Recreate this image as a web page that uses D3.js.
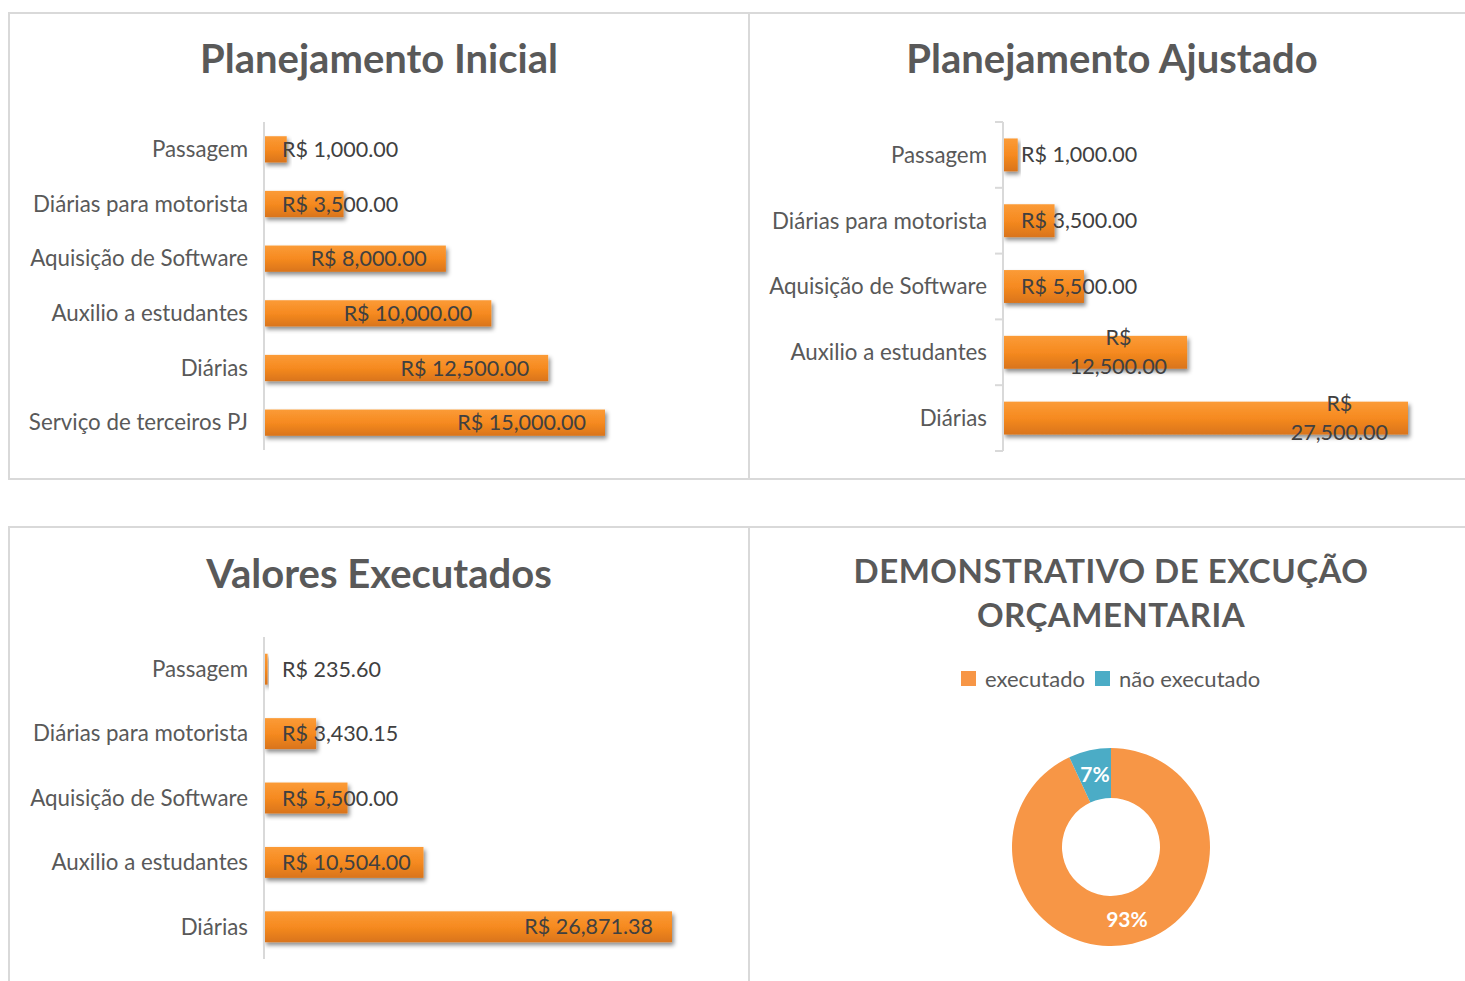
<!DOCTYPE html>
<meta charset="utf-8">
<title>Demonstrativo de execução orçamentaria</title>
<script src="https://d3js.org/d3.v7.min.js"></script>
<style>
  body { margin: 0; background: #fff; overflow: hidden; }
  text { font-family: Lato, "Open Sans", sans-serif; }
</style>
<div id="my_dataviz"></div>
<script>

// data
var catsInicial = ["Passagem", "Diárias para motorista", "Aquisição de Software", "Auxilio a estudantes", "Diárias", "Serviço de terceiros PJ"];
var valsInicial = [1000, 3500, 8000, 10000, 12500, 15000];

var catsAjustado = ["Passagem", "Diárias para motorista", "Aquisição de Software", "Auxilio a estudantes", "Diárias"];
var valsAjustado = [1000, 3500, 5500, 12500, 27500];

var catsExecutado = ["Passagem", "Diárias para motorista", "Aquisição de Software", "Auxilio a estudantes", "Diárias"];
var valsExecutado = [235.60, 3430.15, 5500, 10504, 26871.38];

var donutLabels = ["executado", "não executado"];
var donutColors = ["#f79646", "#4bacc6"];

var W = 1465, H = 981;

var svg = d3.select("#my_dataviz")
  .append("svg")
    .attr("width", W)
    .attr("height", H);

// gradient + shadow for the bars
var defs = svg.append("defs");
var grad = defs.append("linearGradient")
  .attr("id", "barGrad")
  .attr("x1", 0).attr("y1", 0).attr("x2", 0).attr("y2", 1);
grad.append("stop").attr("offset", "0%").attr("stop-color", "#fb9b37");
grad.append("stop").attr("offset", "50%").attr("stop-color", "#f68a20");
grad.append("stop").attr("offset", "100%").attr("stop-color", "#d9741a");

var shadow = defs.append("filter")
  .attr("id", "shadow")
  .attr("x", "-10%").attr("y", "-30%").attr("width", "130%").attr("height", "180%");
shadow.append("feDropShadow")
  .attr("dx", 2).attr("dy", 3)
  .attr("stdDeviation", 2)
  .attr("flood-color", "#000")
  .attr("flood-opacity", 0.45);

// panel frames
var panels = [
  [9, 13, 740, 466],
  [749, 13, 740, 466],
  [9, 527, 740, 470],
  [749, 527, 740, 470]
];
svg.selectAll(".panel")
  .data(panels)
  .enter()
  .append("rect")
    .attr("class", "panel")
    .attr("x", function(d) { return d[0]; })
    .attr("y", function(d) { return d[1]; })
    .attr("width", function(d) { return d[2]; })
    .attr("height", function(d) { return d[3]; })
    .attr("fill", "none")
    .attr("stroke", "#d9d9d9")
    .attr("stroke-width", 2);

function fmt(v) {
  return "R$ " + d3.format(",.2f")(v);
}

// horizontal bar chart
function drawBars(o) {
  var g = svg.append("g");

  g.append("text")
    .attr("x", o.titleX)
    .attr("y", o.titleY)
    .attr("text-anchor", "middle")
    .attr("font-size", "40px")
    .attr("font-weight", "bold")
    .attr("fill", "#595959")
    .text(o.title);

  var x = d3.scaleLinear()
    .domain([0, d3.max(o.vals)])
    .range([o.axisX, o.xEnd]);

  var y = d3.scaleBand()
    .domain(o.cats)
    .range([o.y0, o.y1])
    .paddingInner(o.pad)
    .paddingOuter(o.pad / 2);

  var data = o.cats.map(function(c, i) { return {cat: c, val: o.vals[i]}; });

  g.selectAll(".bar")
    .data(data)
    .enter()
    .append("rect")
      .attr("class", "bar")
      .attr("x", x(0))
      .attr("y", function(d) { return y(d.cat); })
      .attr("width", function(d) { return x(d.val) - x(0); })
      .attr("height", y.bandwidth())
      .attr("fill", "url(#barGrad)")
      .attr("filter", "url(#shadow)");

  // axis line
  g.append("line")
    .attr("x1", o.axisX).attr("x2", o.axisX)
    .attr("y1", o.y0).attr("y2", o.y1)
    .attr("stroke", "#d9d9d9")
    .attr("stroke-width", 2);

  if (o.ticks) {
    var step = y.step();
    var tk = d3.range(o.cats.length + 1).map(function(i) { return o.y0 + i * step; });
    g.selectAll(".tick")
      .data(tk)
      .enter()
      .append("line")
        .attr("x1", o.axisX - 8).attr("x2", o.axisX)
        .attr("y1", function(d) { return d; })
        .attr("y2", function(d) { return d; })
        .attr("stroke", "#d9d9d9")
        .attr("stroke-width", 2);
  }

  // category labels
  g.selectAll(".cat")
    .data(data)
    .enter()
    .append("text")
      .attr("x", o.axisX - 16)
      .attr("y", function(d) { return y(d.cat) + y.bandwidth() / 2; })
      .attr("dy", "0.35em")
      .attr("text-anchor", "end")
      .attr("font-size", "22.3px")
      .attr("fill", "#595959")
      .text(function(d) { return d.cat; });

  // value labels, inside end, never left of the axis
  data.forEach(function(d) {
    var cy = y(d.cat) + y.bandwidth() / 2;
    var t = g.append("text")
      .attr("font-size", "21.5px")
      .attr("fill", "#404040");
    if (o.wrapAt && d.val >= o.wrapAt) {
      var num = d3.format(",.2f")(d.val);
      t.append("tspan").attr("class", "l1").text("R$");
      t.append("tspan").attr("class", "l2").text(num);
      var w2 = t.select(".l2").node().getComputedTextLength();
      var cx = x(d.val) - 20 - w2 / 2;
      t.attr("text-anchor", "middle");
      t.select(".l1").attr("x", cx).attr("y", cy - 7);
      t.select(".l2").attr("x", cx).attr("y", cy + 22);
    } else {
      t.text(fmt(d.val));
      var w = t.node().getComputedTextLength();
      var lx = Math.max(x(d.val) - 19 - w, o.axisX + 18);
      t.attr("x", lx).attr("y", cy).attr("dy", "0.35em");
    }
  });
}

drawBars({
  title: "Planejamento Inicial", titleX: 379, titleY: 73,
  cats: catsInicial, vals: valsInicial,
  axisX: 264, xEnd: 605, y0: 122, y1: 450, pad: 0.52
});

drawBars({
  title: "Planejamento Ajustado", titleX: 1112, titleY: 73,
  cats: catsAjustado, vals: valsAjustado,
  axisX: 1003, xEnd: 1408, y0: 122, y1: 451, pad: 0.5,
  ticks: true, wrapAt: 10000
});

drawBars({
  title: "Valores Executados", titleX: 379, titleY: 588,
  cats: catsExecutado, vals: valsExecutado,
  axisX: 264, xEnd: 672, y0: 637, y1: 959, pad: 0.52
});

// donut: executed vs adjusted plan
var totalPlan = d3.sum(valsAjustado);
var totalExec = d3.sum(valsExecutado);
var donutVals = [totalExec, totalPlan - totalExec];

var dg = svg.append("g");

dg.append("text")
  .attr("x", 1111)
  .attr("y", 583)
  .attr("text-anchor", "middle")
  .attr("font-size", "33px")
  .attr("font-weight", "bold")
  .attr("letter-spacing", "0.5px")
  .attr("fill", "#595959")
  .text("DEMONSTRATIVO DE EXCUÇÃO");
dg.append("text")
  .attr("x", 1111)
  .attr("y", 627)
  .attr("text-anchor", "middle")
  .attr("font-size", "33px")
  .attr("font-weight", "bold")
  .attr("letter-spacing", "0.5px")
  .attr("fill", "#595959")
  .text("ORÇAMENTARIA");

// legend
var legX = [961, 1095];
donutLabels.forEach(function(l, i) {
  dg.append("rect")
    .attr("x", legX[i]).attr("y", 671)
    .attr("width", 15).attr("height", 15)
    .attr("fill", donutColors[i]);
  dg.append("text")
    .attr("x", legX[i] + 24).attr("y", 679)
    .attr("dy", "0.35em")
    .attr("font-size", "22px")
    .attr("fill", "#595959")
    .text(l);
});

var pie = d3.pie().sort(null);
var arcs = pie(donutVals);
var arc = d3.arc().innerRadius(49).outerRadius(99);

var ring = dg.append("g").attr("transform", "translate(1111,847)");
ring.selectAll("path")
  .data(arcs)
  .enter()
  .append("path")
    .attr("d", arc)
    .attr("fill", function(d, i) { return donutColors[i]; });

ring.selectAll(".pct")
  .data(arcs)
  .enter()
  .append("text")
    .attr("transform", function(d) { return "translate(" + arc.centroid(d) + ")"; })
    .attr("dy", "0.35em")
    .attr("text-anchor", "middle")
    .attr("font-size", "21px")
    .attr("font-weight", "bold")
    .attr("fill", "#fff")
    .text(function(d) { return d3.format(".0%")(d.value / totalPlan); });

</script>
